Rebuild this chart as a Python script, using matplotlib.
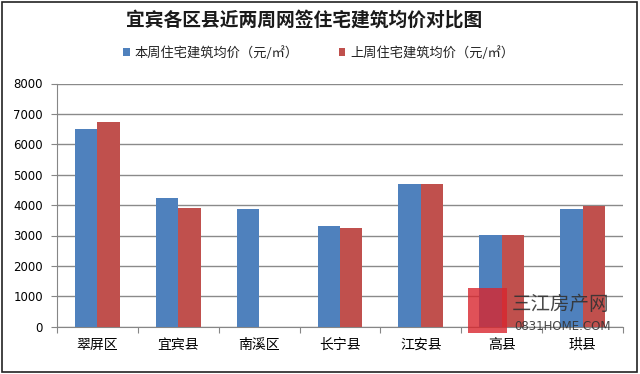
import numpy as np
import matplotlib
matplotlib.use("Agg")
import matplotlib.pyplot as plt
from matplotlib.patches import Rectangle

plt.rcParams['font.family'] = ['Noto Sans CJK SC', 'DejaVu Sans']

## data
districts = ["翠屏区", "宜宾县", "南溪区", "长宁县", "江安县", "高县", "珙县"]
this_week = [6500, 4220, 3870, 3310, 4700, 3030, 3880]
last_week = [6740, 3900, 0, 3240, 4700, 3020, 3980]
label_this = "本周住宅建筑均价（元/㎡）"
label_last = "上周住宅建筑均价（元/㎡）"
yticks = [0, 1000, 2000, 3000, 4000, 5000, 6000, 7000, 8000]

W, H = 640, 374
fig = plt.figure(figsize=(W/100, H/100), dpi=100)
fig.patch.set_facecolor("white")

# plot area in pixels: x 57..623, y 83.5..326.7
ax = fig.add_axes([57/W, 1-326.7/H, 566/W, (326.7-83.5)/H])

x = np.arange(len(districts))
bw = 0.278
ax.bar(x - bw/2, this_week, bw, color="#4F81BD", label=label_this, zorder=3)
ax.bar(x + bw/2, last_week, bw, color="#C0504D", label=label_last, zorder=3)

ax.set_xlim(-0.5, len(districts) - 0.5)
ax.set_ylim(0, 8000)
ax.set_yticks(yticks)
ax.set_yticklabels([str(v) for v in yticks], fontsize=8.5, family="DejaVu Sans")
ax.yaxis.grid(True, color="#8a8a8a", linewidth=1.0, zorder=0)
ax.set_axisbelow(True)

# category ticks sit between groups
ax.set_xticks(np.arange(-0.5, len(districts), 1.0))
ax.set_xticklabels([])
ax.set_xticks(x, minor=True)
ax.set_xticklabels(districts, minor=True, fontsize=10)
ax.tick_params(axis="x", which="minor", length=0, pad=8)
ax.tick_params(axis="x", which="major", length=4, color="#868686", direction="out")
ax.tick_params(axis="y", length=4, color="#868686", pad=6)

for s in ["top", "right"]:
    ax.spines[s].set_visible(False)
ax.spines["left"].set_color("#868686")
ax.spines["bottom"].set_color("#868686")

fig.text(0.475, 1-20/H, "宜宾各区县近两周网签住宅建筑均价对比图", ha="center", va="center",
         fontsize=13.5, fontweight="bold", color="#1a1a1a")

fig.legend(loc="center", bbox_to_anchor=(0.498, 1-53/H), ncol=2, frameon=False,
           fontsize=9.5, handlelength=0.5, handleheight=0.5, handletextpad=0.4,
           columnspacing=3.0, labelcolor="#222222")

# outer frame
fig.patches.append(Rectangle((1.5/W, 2/H), 635/W, (H-3.5)/H, transform=fig.transFigure,
                             fill=False, edgecolor="#222222", linewidth=1.2))

# watermark
fig.patches.append(Rectangle((468/W, 1-333/H), 39/W, 45/H, transform=fig.transFigure,
                             facecolor="#d9262e", alpha=0.8, edgecolor="none", zorder=5))
fig.text(512/W, 1-305/H, "三江房产网", fontsize=14, color="#333333", alpha=0.9,
         va="center", ha="left", zorder=6)
fig.text(514/W, 1-326/H, "0831HOME.COM", fontsize=8.5, color="#333333", alpha=0.9,
         va="center", ha="left", zorder=6, family="DejaVu Sans Condensed")

fig.savefig("out.png", dpi=100)
